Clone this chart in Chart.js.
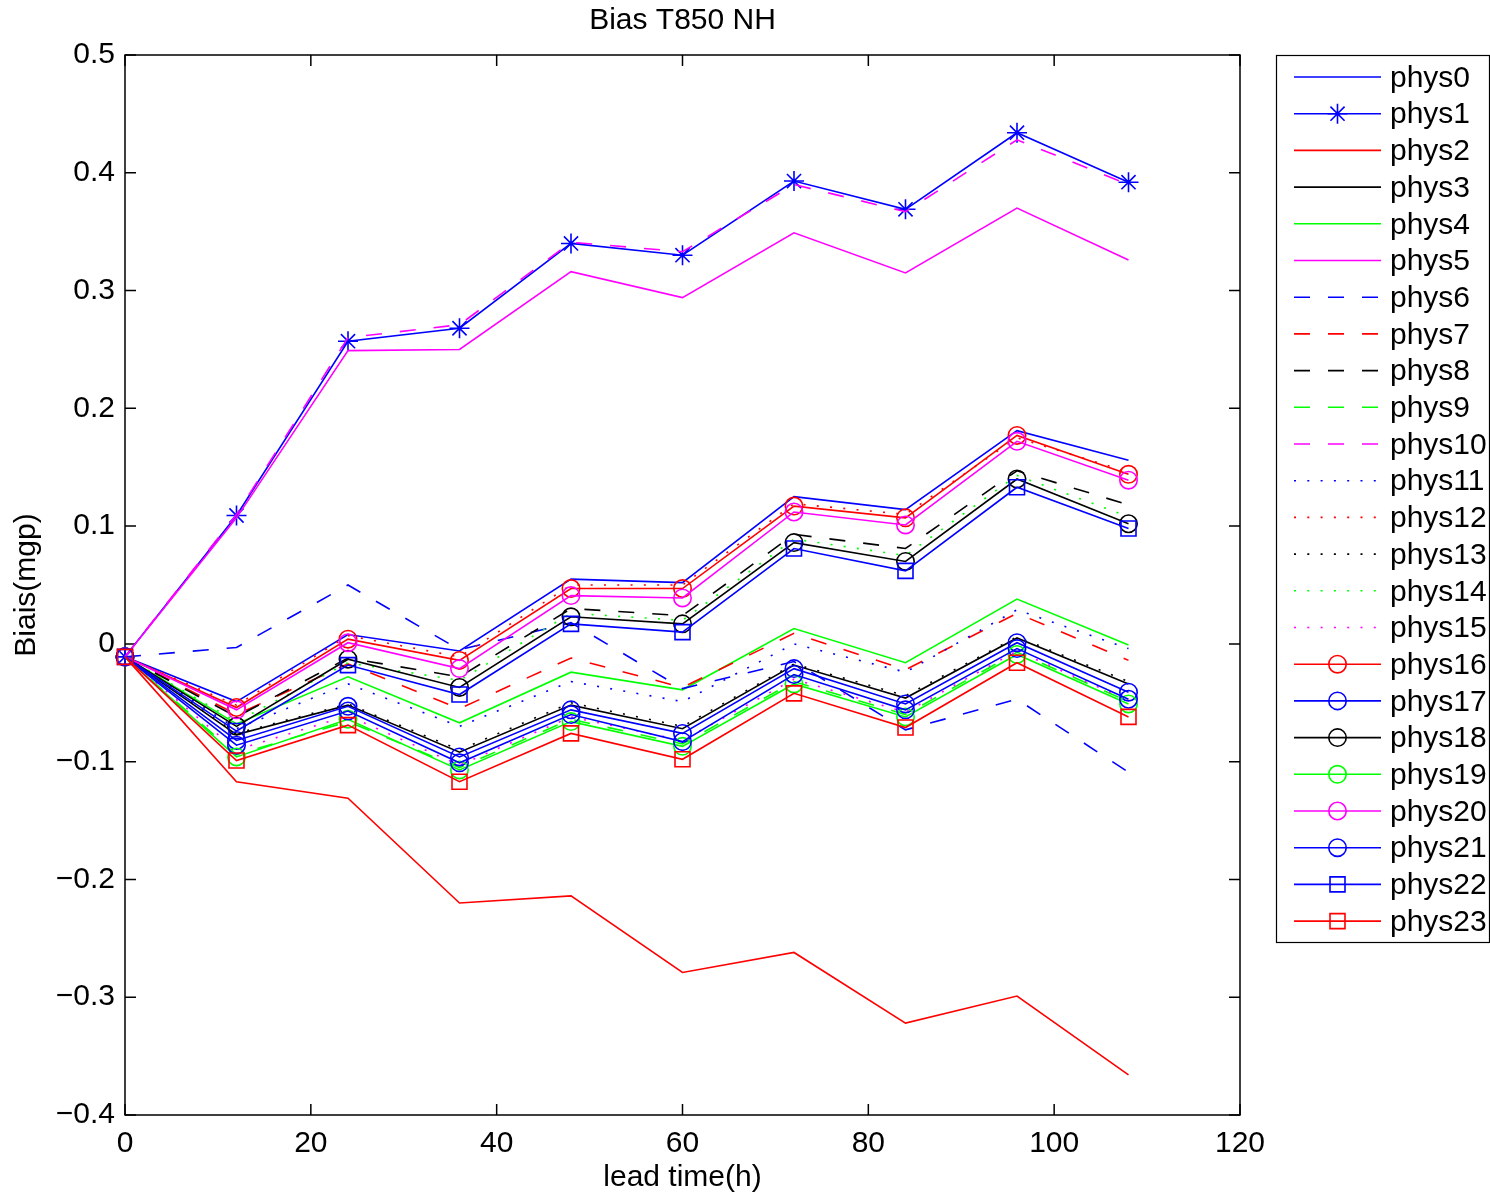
<!DOCTYPE html>
<html><head><meta charset="utf-8">
<script src="https://cdn.jsdelivr.net/npm/chart.js@4.4.1/dist/chart.umd.min.js"></script>
<style>html,body{margin:0;padding:0;background:#fff;overflow:hidden}canvas{display:block}</style>
</head><body>
<canvas id="c" width="1490" height="1193"></canvas>
<script>
// ---------- data ----------
const leadTimes = [0, 12, 24, 36, 48, 60, 72, 84, 96, 108];
const phys0  = [-0.011, -0.049,  0.008, -0.006,  0.055,  0.052,  0.125,  0.114,  0.181,  0.156];
const phys1  = [-0.011,  0.109,  0.257,  0.268,  0.340,  0.330,  0.393,  0.369,  0.434,  0.392];
const phys2  = [-0.011, -0.117, -0.131, -0.220, -0.214, -0.279, -0.262, -0.322, -0.299, -0.366];
const phys3  = [-0.011, -0.077, -0.052, -0.092, -0.052, -0.072, -0.018, -0.046,  0.005, -0.034];
const phys4  = [-0.011, -0.068, -0.028, -0.067, -0.024, -0.039,  0.013, -0.016,  0.038, -0.001];
const phys5  = [-0.011,  0.107,  0.249,  0.250,  0.316,  0.294,  0.349,  0.315,  0.370,  0.326];
const phys6  = [-0.011, -0.003,  0.050, -0.005,  0.018, -0.038, -0.015, -0.073, -0.047, -0.109];
const phys7  = [-0.011, -0.060, -0.017, -0.055, -0.012, -0.037,  0.009, -0.022,  0.026, -0.014];
const phys8  = [-0.011, -0.062, -0.012, -0.028,  0.030,  0.024,  0.093,  0.081,  0.147,  0.118];
const phys9  = [-0.011, -0.094, -0.066, -0.105, -0.064, -0.085, -0.032, -0.060, -0.007, -0.049];
const phys10 = [-0.011,  0.110,  0.260,  0.271,  0.341,  0.333,  0.390,  0.367,  0.428,  0.390];
const phys11 = [-0.011, -0.072, -0.034, -0.070, -0.032, -0.049,  0.000, -0.024,  0.029, -0.004];
const phys12 = [-0.011, -0.052,  0.007, -0.011,  0.050,  0.050,  0.119,  0.110,  0.175,  0.146];
const phys13 = [-0.011, -0.076, -0.051, -0.090, -0.050, -0.070, -0.017, -0.044,  0.006, -0.032];
const phys14 = [-0.011, -0.066, -0.016, -0.031,  0.026,  0.020,  0.089,  0.075,  0.143,  0.108];
const phys15 = [-0.011, -0.090, -0.061, -0.103, -0.062, -0.082, -0.030, -0.058, -0.006, -0.048];
const phys16 = [-0.011, -0.054,  0.004, -0.014,  0.047,  0.047,  0.117,  0.107,  0.177,  0.144];
const phys17 = [-0.011, -0.082, -0.053, -0.096, -0.056, -0.076, -0.021, -0.051,  0.001, -0.041];
const phys18 = [-0.011, -0.070, -0.013, -0.037,  0.023,  0.017,  0.086,  0.070,  0.140,  0.102];
const phys19 = [-0.011, -0.096, -0.064, -0.107, -0.066, -0.087, -0.034, -0.062, -0.009, -0.051];
const phys20 = [-0.011, -0.056,  0.001, -0.021,  0.041,  0.039,  0.112,  0.101,  0.172,  0.139];
const phys21 = [-0.011, -0.086, -0.057, -0.101, -0.060, -0.083, -0.026, -0.056, -0.004, -0.047];
const phys22 = [-0.011, -0.074, -0.018, -0.043,  0.017,  0.010,  0.081,  0.062,  0.133,  0.098];
const phys23 = [-0.011, -0.099, -0.069, -0.117, -0.076, -0.098, -0.042, -0.071, -0.016, -0.062];

const seriesNames = ['phys0','phys1','phys2','phys3','phys4','phys5','phys6','phys7','phys8','phys9','phys10','phys11',
  'phys12','phys13','phys14','phys15','phys16','phys17','phys18','phys19','phys20','phys21','phys22','phys23'];
const seriesValues = [phys0,phys1,phys2,phys3,phys4,phys5,phys6,phys7,phys8,phys9,phys10,phys11,
  phys12,phys13,phys14,phys15,phys16,phys17,phys18,phys19,phys20,phys21,phys22,phys23];

const xTickValues = [0, 20, 40, 60, 80, 100, 120];
const xTickLabels = ['0', '20', '40', '60', '80', '100', '120'];
const yTickValues = [-0.4, -0.3, -0.2, -0.1, 0, 0.1, 0.2, 0.3, 0.4, 0.5];
const yTickLabels = ['\u22120.4', '\u22120.3', '\u22120.2', '\u22120.1', '0', '0.1', '0.2', '0.3', '0.4', '0.5'];
const chartTitle = 'Bias T850 NH';
const xTitle = 'lead time(h)';
const yTitle = 'Biais(mgp)';

// ---------- styles ----------
const FONT = '"Liberation Sans", Arial, Helvetica, sans-serif';
const FS = 30;
const B = '#0000ff', R = '#ff0000', K = '#000000', G = '#00ff00', M = '#ff00ff';
const styleSpec = [
  [B,'solid',null],[B,'solid','star'],[R,'solid',null],[K,'solid',null],[G,'solid',null],[M,'solid',null],
  [B,'dash',null],[R,'dash',null],[K,'dash',null],[G,'dash',null],[M,'dash',null],
  [B,'dot',null],[R,'dot',null],[K,'dot',null],[G,'dot',null],[M,'dot',null],
  [R,'solid','circle'],[B,'solid','circle'],[K,'solid','circle'],[G,'solid','circle'],[M,'solid','circle'],
  [B,'solid','circle'],[B,'solid','rect'],[R,'solid','rect']
];
const DASH = {solid: [], dash: [16, 18], dot: [2, 11.3]};
const RADIUS = {circle: 8.7, rect: 10.6, star: 10};
const LW = 1.6;

const datasets = seriesNames.map((name, i) => {
  const [col, ls, mk] = styleSpec[i];
  return {
    label: name,
    data: leadTimes.map((x, j) => ({x: x, y: seriesValues[i][j]})),
    borderColor: col,
    backgroundColor: col,
    borderWidth: LW,
    borderDash: DASH[ls],
    borderCapStyle: 'butt',
    borderJoinStyle: 'miter',
    pointStyle: mk || 'circle',
    pointRadius: mk ? RADIUS[mk] : 0,
    pointBorderWidth: LW,
    pointBorderColor: col,
    pointBackgroundColor: 'rgba(0,0,0,0)',
    pointHoverRadius: mk ? RADIUS[mk] : 0,
    tension: 0,
    fill: false,
    clip: false,
    order: seriesNames.length - i
  };
});

function markPoint(ctx, style, r, x, y) {
  if (Chart.helpers && Chart.helpers.drawPoint) {
    Chart.helpers.drawPoint(ctx, {pointStyle: style, rotation: 0, radius: r, borderWidth: LW}, x, y);
    return;
  }
  ctx.beginPath();
  if (style === 'circle') ctx.arc(x, y, r, 0, Math.PI * 2);
  else if (style === 'rect') { const s = r * Math.SQRT1_2; ctx.rect(x - s, y - s, 2 * s, 2 * s); }
  else { for (let a = 0; a < 4; a++) { const t = a * Math.PI / 4; ctx.moveTo(x - r * Math.cos(t), y - r * Math.sin(t)); ctx.lineTo(x + r * Math.cos(t), y + r * Math.sin(t)); } }
  ctx.stroke();
}

const framePlugin = {
  id: 'frame',
  beforeDatasetsDraw(chart) {
    const {ctx, chartArea: {left, right, top, bottom}, scales: {x, y}} = chart;
    ctx.save();
    ctx.strokeStyle = '#000';
    ctx.lineWidth = 1.5;
    ctx.setLineDash([]);
    ctx.strokeRect(left, top, right - left, bottom - top);
    const tl = 11;
    ctx.beginPath();
    x.ticks.forEach(t => {
      const px = x.getPixelForValue(t.value);
      ctx.moveTo(px, bottom); ctx.lineTo(px, bottom - tl);
      ctx.moveTo(px, top); ctx.lineTo(px, top + tl);
    });
    y.ticks.forEach(t => {
      const py = y.getPixelForValue(t.value);
      ctx.moveTo(left, py); ctx.lineTo(left + tl, py);
      ctx.moveTo(right, py); ctx.lineTo(right - tl, py);
    });
    ctx.stroke();
    // title
    ctx.fillStyle = '#000';
    ctx.font = FS + 'px ' + FONT;
    ctx.textAlign = 'center';
    ctx.textBaseline = 'middle';
    ctx.fillText(chartTitle, (left + right) / 2, 21);
    ctx.restore();
  }
};

const legendPlugin = {
  id: 'mlegend',
  afterDraw(chart) {
    const ctx = chart.ctx;
    const bx = 1276.5, by = 55.5, bw = 213, bh = 887;
    ctx.save();
    ctx.fillStyle = '#fff';
    ctx.fillRect(bx, by, bw, bh);
    ctx.strokeStyle = '#000';
    ctx.lineWidth = 1.2;
    ctx.setLineDash([]);
    ctx.strokeRect(bx, by, bw, bh);
    const step = 36.7, y0 = 77;
    chart.data.datasets.forEach((ds, i) => {
      const y = y0 + i * step;
      ctx.strokeStyle = ds.borderColor;
      ctx.lineWidth = LW;
      ctx.lineCap = 'butt';
      ctx.setLineDash(ds.borderDash);
      ctx.beginPath();
      ctx.moveTo(1294, y); ctx.lineTo(1381, y);
      ctx.stroke();
      ctx.setLineDash([]);
      if (ds.pointRadius > 0) {
        ctx.fillStyle = 'rgba(0,0,0,0)';
        ctx.strokeStyle = ds.borderColor;
        ctx.lineWidth = LW;
        markPoint(ctx, ds.pointStyle, ds.pointRadius, 1337.5, y);
      }
      ctx.fillStyle = '#000';
      ctx.font = FS + 'px ' + FONT;
      ctx.textAlign = 'left';
      ctx.textBaseline = 'middle';
      ctx.fillText(ds.label, 1390, y + 1.5);
    });
    ctx.restore();
  }
};

new Chart(document.getElementById('c'), {
  type: 'line',
  data: {datasets: datasets},
  options: {
    responsive: false,
    animation: false,
    devicePixelRatio: 1,
    events: [],
    layout: {padding: {top: 55, right: 250, left: 0, bottom: 0}},
    plugins: {legend: {display: false}, tooltip: {enabled: false}, title: {display: false}},
    scales: {
      x: {
        type: 'linear', min: 0, max: 120,
        afterBuildTicks: s => { s.ticks = xTickValues.map(v => ({value: v})); },
        afterFit: s => { s.height = 78; },
        grid: {display: false, drawTicks: false},
        border: {display: false},
        ticks: {color: '#000', font: {family: FONT, size: FS}, padding: 11, maxRotation: 0, autoSkip: false,
          callback: (v, i) => xTickLabels[i]},
        title: {display: true, text: xTitle, color: '#000', font: {family: FONT, size: FS, lineHeight: 1.05}, padding: {top: 0, bottom: 0}}
      },
      y: {
        type: 'linear', min: -0.4, max: 0.5,
        afterBuildTicks: s => { s.ticks = yTickValues.map(v => ({value: v})); },
        afterFit: s => { s.width = 125; },
        grid: {display: false, drawTicks: false},
        border: {display: false},
        ticks: {color: '#000', font: {family: FONT, size: FS}, padding: 10, autoSkip: false,
          callback: (v, i) => yTickLabels[i]},
        title: {display: true, text: yTitle, color: '#000', font: {family: FONT, size: FS, lineHeight: 1.1}, padding: {top: 10, bottom: 0}}
      }
    }
  },
  plugins: [framePlugin, legendPlugin]
});
</script>
</body></html>
